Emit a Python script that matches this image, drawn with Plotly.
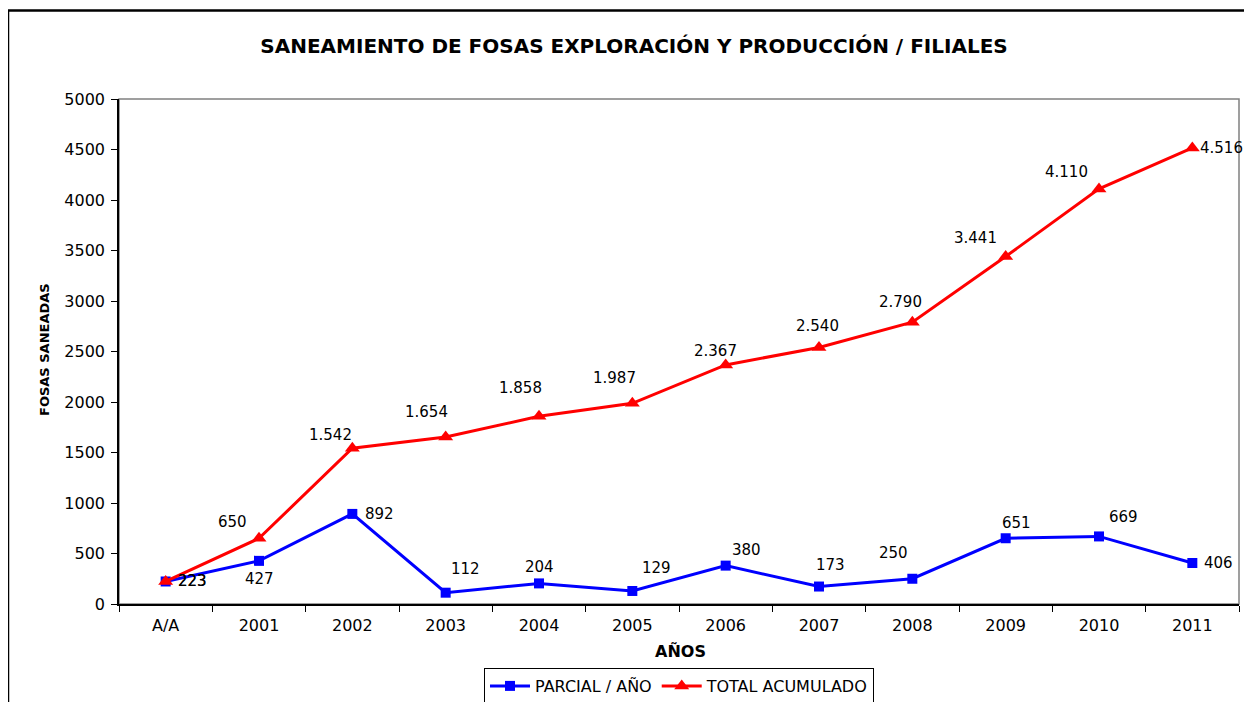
import plotly.graph_objects as go

CATEGORIES = ["A/A", "2001", "2002", "2003", "2004", "2005", "2006", "2007", "2008", "2009", "2010", "2011"]
PARCIAL = [223, 427, 892, 112, 204, 129, 380, 173, 250, 651, 669, 406]
TOTAL = [223, 650, 1542, 1654, 1858, 1987, 2367, 2540, 2790, 3441, 4110, 4516]
Y_TICKS = [0, 500, 1000, 1500, 2000, 2500, 3000, 3500, 4000, 4500, 5000]

# label offsets in pixels (dx, dy screen-down)
PARCIAL_OFFSETS = [(27, 0), (0, 18), (27, 0), (20, -24), (0, -16), (24, -23),
                   (21, -16), (11, -22), (-19, -26), (11, -15), (24, -19), (26, 0)]
TOTAL_OFFSETS = [(27, 0), (-27, -16), (-22, -13), (-19, -25), (-19, -28), (-18, -25),
                 (-10, -14), (-2, -21), (-12, -20), (-30, -18), (-33, -17), (29, 0)]

FONT = "DejaVu Sans"
# page has an 8px body margin, so the figure is offset by 8px
OFF = 8
W, H = 1252 - OFF, 702 - OFF
PL, PR, PT, PB = 119, 1239, 99, 604   # plot area in page pixels


def px(x):
    return (x - PL) / (PR - PL)


def py(y):
    return (PB - y) / (PB - PT)


def fmt(v):
    return f"{v:,}".replace(",", ".")


fig = go.Figure()
fig.add_trace(go.Scatter(x=CATEGORIES, y=PARCIAL, name="PARCIAL / AÑO", mode="lines+markers",
                         line=dict(color="#0000ff", width=3),
                         marker=dict(symbol="square", size=10, color="#0000ff")))
fig.add_trace(go.Scatter(x=CATEGORIES, y=TOTAL, name="TOTAL ACUMULADO", mode="lines+markers",
                         line=dict(color="#ff0000", width=3),
                         marker=dict(symbol="triangle-up", size=13, color="#ff0000")))

annotations = []
for values, offsets in ((TOTAL, TOTAL_OFFSETS), (PARCIAL, PARCIAL_OFFSETS)):
    for i, (v, (dx, dy)) in enumerate(zip(values, offsets)):
        annotations.append(dict(x=i, y=v, text=fmt(v), showarrow=False, xshift=dx, yshift=-dy,
                                xanchor="center", yanchor="middle",
                                font=dict(family=FONT, size=15, color="black")))

annotations.append(dict(xref="paper", yref="paper", x=px(680), y=py(651), text="<b>AÑOS</b>",
                        showarrow=False, xanchor="center", yanchor="middle",
                        font=dict(family=FONT, size=16, color="black")))
annotations.append(dict(xref="paper", yref="paper", x=px(44), y=py(350), text="<b>FOSAS SANEADAS</b>",
                        textangle=-90, showarrow=False, xanchor="center", yanchor="middle",
                        font=dict(family=FONT, size=13, color="black")))

shapes = [
    dict(type="rect", xref="x domain", yref="y domain", x0=0, x1=1, y0=0, y1=1,
         line=dict(color="#808080", width=1.5), layer="below"),
    dict(type="path", xref="paper", yref="paper",
         path=f"M {px(8)},{py(720)} L {px(8)},{py(10.5)} L {px(1260)},{py(10.5)}",
         line=dict(color="black", width=2.5)),
]

fig.update_layout(
    width=W, height=H,
    paper_bgcolor="white", plot_bgcolor="white",
    margin=dict(l=PL - OFF, r=W + OFF - PR, t=PT - OFF, b=H + OFF - PB, autoexpand=False),
    title=dict(text="<b>SANEAMIENTO DE FOSAS EXPLORACIÓN Y PRODUCCIÓN / FILIALES</b>",
               x=(634 - OFF) / W, y=1 - (46 - OFF) / H, xanchor="center", yanchor="middle",
               font=dict(family=FONT, size=20, color="black")),
    font=dict(family=FONT, size=16, color="black"),
    showlegend=True,
    legend=dict(orientation="h", x=px(679), y=py(668), xanchor="center", yanchor="top",
                bordercolor="black", borderwidth=1, bgcolor="white",
                font=dict(family=FONT, size=16, color="black"), itemwidth=40,
                tracegroupgap=0),
    annotations=annotations,
    shapes=shapes,
)
fig.update_xaxes(type="category", range=[-0.5, len(CATEGORIES) - 0.5], tickson="boundaries",
                 ticks="outside", ticklen=6, tickcolor="black", showline=True, linecolor="black",
                 linewidth=1.5, showgrid=False, zeroline=False, ticklabelstandoff=6,
                 tickfont=dict(family=FONT, size=16, color="black"))
fig.update_yaxes(range=[0, 5000], tickvals=Y_TICKS, ticks="outside", ticklen=6, tickcolor="black",
                 showline=True, linecolor="black", linewidth=1.5, showgrid=False, zeroline=False,
                 ticklabelstandoff=3,
                 tickfont=dict(family=FONT, size=16, color="black"))

fig.write_html("out.html")
